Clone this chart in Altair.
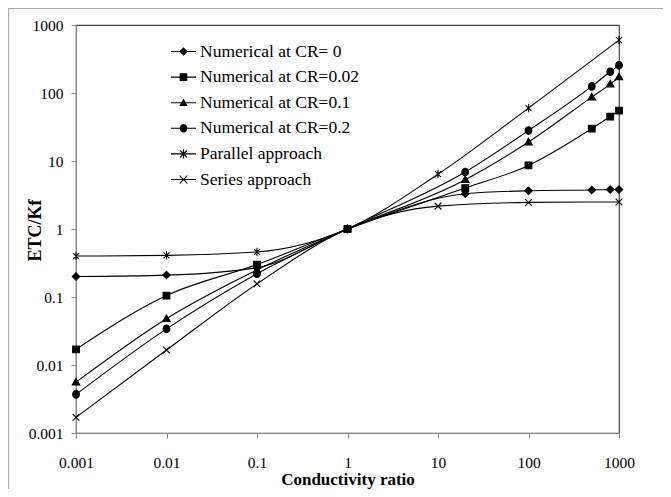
import math
import altair as alt
import pandas as pd

# ---- data ----
x_numerical = [0.001, 0.01, 0.1, 1, 20, 100, 500, 800, 1000]
cr_0 = [0.20, 0.21, 0.27, 1.0, 3.3, 3.65, 3.75, 3.8, 3.8]
cr_002 = [0.017, 0.105, 0.30, 1.0, 4.0, 8.6, 30, 45, 55]
cr_01 = [0.0056, 0.048, 0.25, 1.0, 5.3, 19, 87, 135, 172]
cr_02 = [0.0037, 0.034, 0.22, 1.0, 6.9, 28, 125, 205, 255]

x_models = [0.001, 0.01, 0.1, 1, 10, 100, 1000]
parallel = [0.40, 0.41, 0.46, 1.0, 6.4, 60, 600]
series_app = [0.0017, 0.0166, 0.156, 1.0, 2.17, 2.46, 2.5]

names = [
    "Numerical at CR= 0",
    "Numerical at CR=0.02",
    "Numerical at CR=0.1",
    "Numerical at CR=0.2",
    "Parallel approach",
    "Series approach",
]
axis_ticks = [0.001, 0.01, 0.1, 1, 10, 100, 1000]

rows = []
for name, xs, ys in [
    (names[0], x_numerical, cr_0),
    (names[1], x_numerical, cr_002),
    (names[2], x_numerical, cr_01),
    (names[3], x_numerical, cr_02),
    (names[4], x_models, parallel),
    (names[5], x_models, series_app),
]:
    for xv, yv in zip(xs, ys):
        rows.append({"x": xv, "y": yv, "series": name})
df = pd.DataFrame(rows)

# ---- marker shapes for the plot (unit square paths) ----
marker_paths = [
    "M0,-1L1,0L0,1L-1,0Z",
    "M-0.9,-0.9L0.9,-0.9L0.9,0.9L-0.9,0.9Z",
    "M0,-1L1,0.75L-1,0.75Z",
    "M-0.9,0A0.9,1 0 1,0 0.9,0A0.9,1 0 1,0 -0.9,0Z",
    "M-0.8,-0.8L0.8,0.8M-0.8,0.8L0.8,-0.8M0,-1.1L0,1.1",
    "M-0.9,-0.9L0.9,0.9M-0.9,0.9L0.9,-0.9",
]


# ---- legend glyphs: line through marker, built only from filled polygons ----
def _poly(pts):
    area = sum(pts[i][0] * pts[(i + 1) % len(pts)][1] - pts[(i + 1) % len(pts)][0] * pts[i][1]
               for i in range(len(pts)))
    if area < 0:
        pts = pts[::-1]
    return "M" + "L".join(f"{px:.4f},{py:.4f}" for px, py in pts) + "Z"


def _seg(x1, y1, x2, y2, w):
    dx, dy = x2 - x1, y2 - y1
    ln = math.hypot(dx, dy)
    nx, ny = -dy / ln * w, dx / ln * w
    return _poly([(x1 + nx, y1 + ny), (x2 + nx, y2 + ny), (x2 - nx, y2 - ny), (x1 - nx, y1 - ny)])


k = 0.34
t = 0.045
hline = _seg(-1, 0, 1, 0, t)
ellipse = [(0.9 * k * math.cos(2 * math.pi * i / 28), k * math.sin(2 * math.pi * i / 28)) for i in range(28)]
legend_paths = [
    hline + _poly([(0, -k), (k, 0), (0, k), (-k, 0)]),
    hline + _poly([(-0.9 * k, -0.9 * k), (0.9 * k, -0.9 * k), (0.9 * k, 0.9 * k), (-0.9 * k, 0.9 * k)]),
    hline + _poly([(0, -k), (k, 0.75 * k), (-k, 0.75 * k)]),
    hline + _poly(ellipse),
    hline + _seg(-0.8 * k, -0.8 * k, 0.8 * k, 0.8 * k, t) + _seg(-0.8 * k, 0.8 * k, 0.8 * k, -0.8 * k, t)
    + _seg(0, -1.1 * k, 0, 1.1 * k, t),
    hline + _seg(-0.9 * k, -0.9 * k, 0.9 * k, 0.9 * k, t) + _seg(-0.9 * k, 0.9 * k, 0.9 * k, -0.9 * k, t),
]

FONT = "Liberation Serif"

x_scale = alt.Scale(type="log", domain=[0.001, 1000], nice=False)
y_scale = alt.Scale(type="log", domain=[0.001, 1000], nice=False)

x_axis = alt.Axis(
    values=axis_ticks, format="~g", title="Conductivity ratio", grid=False,
    labelFont=FONT, labelFontSize=15.5, labelColor="black", labelPadding=17,
    tickSize=5, tickColor="#888", domainColor="#888",
    titleFont=FONT, titleFontSize=17, titleFontWeight="bold", titleColor="black",
    titleY=55, titleBaseline="bottom", titleAlign="center",
    labelFlush=False, labelOverlap=False,
)
y_axis = alt.Axis(
    values=axis_ticks, format="~g", title="ETC/Kf", grid=False,
    labelFont=FONT, labelFontSize=15.5, labelColor="black", labelPadding=8,
    tickSize=5, tickColor="#888", domainColor="#888",
    titleFont=FONT, titleFontSize=18, titleFontWeight="bold", titleColor="black",
    titleX=-41, titleY=205, titleAngle=270, titleAlign="center", titleBaseline="middle",
    labelFlush=False, labelOverlap=False,
)

base = alt.Chart(df)

lines = base.mark_line(
    interpolate="monotone", color="black", strokeWidth=1.1, clip=True
).encode(
    x=alt.X("x:Q", scale=x_scale, axis=x_axis),
    y=alt.Y("y:Q", scale=y_scale, axis=y_axis),
    detail="series:N",
    order="x:Q",
)

points = base.mark_point(
    filled=True, fill="black", stroke="black", strokeWidth=1.1, size=56, opacity=1
).encode(
    x=alt.X("x:Q", scale=x_scale),
    y=alt.Y("y:Q", scale=y_scale),
    shape=alt.Shape("series:N", scale=alt.Scale(domain=names, range=marker_paths), legend=None),
)

legend_layer = base.transform_calculate(
    y_off="datum.y * 1e-12"
).mark_point(
    filled=True, fill="black", size=625, clip=True, opacity=1
).encode(
    x=alt.X("x:Q", scale=x_scale),
    y=alt.Y("y_off:Q", scale=y_scale),
    shape=alt.Shape(
        "series:N",
        scale=alt.Scale(domain=names, range=legend_paths),
        legend=alt.Legend(
            title=None, orient="none", legendX=94, legendY=13,
            symbolSize=625, symbolFillColor="black",
            labelFont=FONT, labelFontSize=17.5,
            labelColor="black", labelOffset=3, rowPadding=3.6, padding=0,
            labelLimit=300,
        ),
    ),
)

frame = alt.Chart(alt.Data(values=[{"a": 1}])).mark_rect(
    fill=None, stroke="#aaaaaa", strokeWidth=1.2, clip=False
).encode(
    x=alt.value(-67.5), y=alt.value(-16.5), x2=alt.value(800), y2=alt.value(800)
)

chart = alt.layer(frame, lines, points, legend_layer).resolve_scale(
    shape="independent"
).properties(
    width=543, height=408,
    autosize=alt.AutoSizeParams(type="none"),
    padding={"left": 68, "top": 17, "right": 44, "bottom": 56},
    background="white",
).configure_view(stroke="#444", strokeWidth=1.2)

chart.save("out.html", embed_options={"renderer": "svg", "actions": False})
